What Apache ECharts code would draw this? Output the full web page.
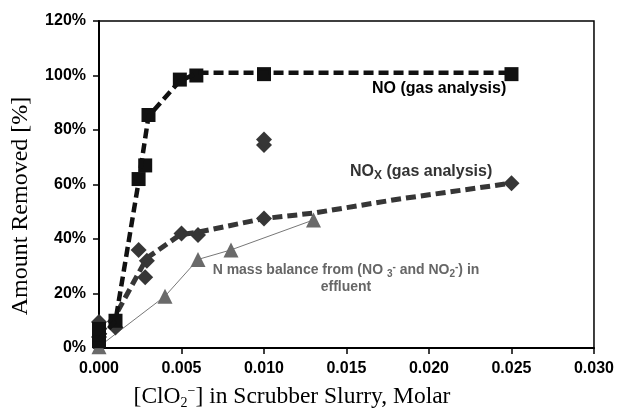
<!DOCTYPE html>
<html>
<head>
<meta charset="utf-8">
<script src="https://cdn.jsdelivr.net/npm/echarts@6/dist/echarts.min.js"></script>
<style>
  html, body { margin: 0; padding: 0; background: #fff; }
  #chart { width: 617px; height: 408px; }
</style>
</head>
<body>
<div id="chart"></div>
<script>
// NO (gas analysis) - squares
const noX = [0, 0, 0, 0.001, 0.0024, 0.0028, 0.003, 0.0049, 0.0059, 0.010, 0.025]
const noY = [2.5, 5, 7, 10, 62, 67, 85.5, 98.5, 100, 100.5, 100.5]
// NO trend (dashed)
const noTrendX = [0, 0.001, 0.0024, 0.003, 0.0049, 0.006, 0.010, 0.025]
const noTrendY = [3, 10, 61, 85, 98, 101, 101, 101]

// NOx (gas analysis) - diamonds
const noxX = [0, 0, 0.001, 0.0024, 0.0029, 0.0028, 0.005, 0.006, 0.010, 0.010, 0.010, 0.025]
const noxY = [9.5, 4, 7.5, 36, 32, 26, 42, 41.5, 47.5, 74.5, 76.5, 60.5]
// NOx trend (dashed)
const noxTrendX = [0, 0.001, 0.0029, 0.0049, 0.006, 0.010, 0.013, 0.018, 0.025]
const noxTrendY = [5, 12, 33, 41.5, 42.5, 47.5, 49.5, 54.5, 60.5]

// N mass balance - triangles
const nbX = [0, 0.004, 0.006, 0.008, 0.013]
const nbY = [0.5, 19, 32.5, 36, 47]

const xTicks = { min: 0, max: 0.03, interval: 0.005 }
const yTicks = { min: 0, max: 120, interval: 20 }

function pairs(xs, ys) {
  return xs.map((x, i) => [x, ys[i]])
}

const chart = echarts.init(document.getElementById('chart'))
chart.setOption({
  backgroundColor: '#fff',
  animation: false,
  grid: {
    left: 99,
    right: 20,
    top: 21,
    bottom: 60,
    show: true,
    borderColor: '#000',
    borderWidth: 1.5
  },
  xAxis: {
    type: 'value',
    min: xTicks.min,
    max: xTicks.max,
    interval: xTicks.interval,
    axisLine: { show: true, lineStyle: { color: '#000', width: 2 } },
    axisTick: { show: true, length: 6, lineStyle: { color: '#000', width: 1.5 } },
    axisLabel: {
      margin: 13,
      color: '#000',
      fontFamily: 'Liberation Sans, Arial',
      fontWeight: 'bold',
      fontSize: 16,
      formatter: v => v.toFixed(3)
    },
    splitLine: { show: false }
  },
  yAxis: {
    type: 'value',
    min: yTicks.min,
    max: yTicks.max,
    interval: yTicks.interval,
    axisLine: { show: true, lineStyle: { color: '#000', width: 2 } },
    axisTick: { show: true, length: 6, lineStyle: { color: '#000', width: 1.5 } },
    axisLabel: {
      margin: 13,
      color: '#000',
      fontFamily: 'Liberation Sans, Arial',
      fontWeight: 'bold',
      fontSize: 16,
      formatter: '{value}%'
    },
    splitLine: { show: false }
  },
  series: [
    {
      type: 'line',
      data: pairs(nbX, nbY),
      symbol: 'triangle',
      symbolSize: 15,
      itemStyle: { color: '#6a6a6a', opacity: 1 },
      lineStyle: { color: '#777', width: 1 },
      z: 2
    },
    {
      type: 'scatter',
      data: pairs(noxX, noxY),
      symbol: 'diamond',
      symbolSize: 16,
      itemStyle: { color: '#363636', opacity: 1 },
      z: 3
    },
    {
      type: 'line',
      data: pairs(noxTrendX, noxTrendY),
      showSymbol: false,
      lineStyle: { color: '#363636', width: 5, type: [10, 5] },
      z: 4
    },
    {
      type: 'scatter',
      data: pairs(noX, noY),
      symbol: 'rect',
      symbolSize: 14,
      itemStyle: { color: '#111', opacity: 1 },
      z: 5
    },
    {
      type: 'line',
      data: pairs(noTrendX, noTrendY),
      showSymbol: false,
      lineStyle: { color: '#111', width: 4.5, type: [10, 5] },
      z: 6
    }
  ],
  graphic: [
    {
      type: 'text',
      left: 372,
      top: 81,
      style: {
        text: 'NO (gas analysis)',
        font: 'bold 16px Liberation Sans, Arial',
        fill: '#000'
      }
    },
    {
      type: 'text',
      left: 350,
      top: 164,
      style: {
        text: '{a|NO}{b|X}{a| (gas analysis)}',
        rich: {
          a: { font: 'bold 16px Liberation Sans, Arial', fill: '#333', lineHeight: 20, verticalAlign: 'middle' },
          b: { font: 'bold 12px Liberation Sans, Arial', fill: '#333', lineHeight: 20, verticalAlign: 'bottom' }
        }
      }
    },
    {
      type: 'text',
      x: 346,
      y: 262,
      style: {
        text: '{a|N mass balance from (NO }{b|3}{c|-}{a| and NO}{b|2}{c|-}{a|) in}\n{a|effluent}',
        align: 'center',
        rich: {
          a: { font: 'bold 14px Liberation Sans, Arial', fill: '#666', lineHeight: 17, verticalAlign: 'middle' },
          b: { font: 'bold 10px Liberation Sans, Arial', fill: '#666', lineHeight: 17, verticalAlign: 'bottom' },
          c: { font: 'bold 10px Liberation Sans, Arial', fill: '#666', lineHeight: 17, verticalAlign: 'top' }
        }
      }
    },
    {
      type: 'text',
      x: 292,
      y: 397,
      style: {
        text: '{a|[ClO}{b|2}{c|−}{a|] in Scrubber Slurry, Molar}',
        align: 'center',
        verticalAlign: 'middle',
        rich: {
          a: { font: '23.5px Liberation Serif, Times New Roman', fill: '#000', lineHeight: 26, verticalAlign: 'middle' },
          b: { font: '14px Liberation Serif, Times New Roman', fill: '#000', lineHeight: 26, verticalAlign: 'bottom' },
          c: { font: '14px Liberation Serif, Times New Roman', fill: '#000', lineHeight: 26, verticalAlign: 'top' }
        }
      }
    },
    {
      type: 'text',
      x: 21,
      y: 206,
      rotation: Math.PI / 2,
      style: {
        text: 'Amount Removed [%]',
        font: '24px Liberation Serif, Times New Roman',
        fill: '#000',
        align: 'center',
        verticalAlign: 'middle'
      }
    }
  ]
})
</script>
</body>
</html>
